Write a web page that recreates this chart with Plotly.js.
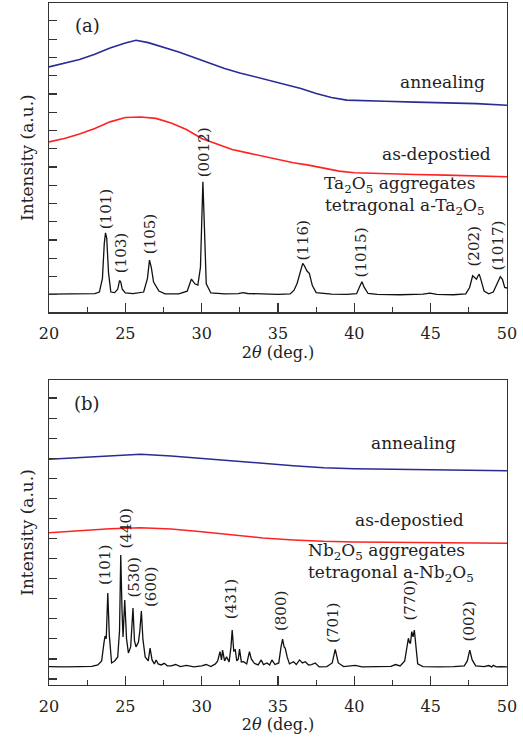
<!DOCTYPE html>
<html>
<head>
<meta charset="utf-8">
<script src="https://cdn.plot.ly/plotly-3.0.1.min.js"></script>
<style>html,body{margin:0;padding:0;background:#fff;}#chart{width:523px;height:742px;}</style>
</head>
<body>
<div id="chart"></div>
<script>
// ---------- Panel (a): Ta2O5 ----------
const aAnnealX = [20, 21, 22, 23, 24, 25, 25.7, 26.5, 27.5, 28.5, 29.5, 30.5, 31.5, 32.5, 33.5, 34.5, 35.5, 36.5, 37.5, 38.5, 39.5, 40.5, 42, 44, 46, 48, 50];
const aAnnealY = [12.48, 12.67, 12.88, 13.17, 13.52, 13.79, 13.94, 13.81, 13.57, 13.30, 12.99, 12.67, 12.39, 12.15, 11.93, 11.70, 11.48, 11.30, 11.02, 10.80, 10.66, 10.62, 10.60, 10.55, 10.51, 10.47, 10.38];
const aDepoX = [20, 21, 22, 23, 24, 25, 26, 27, 28, 29, 30, 31, 32, 33, 34, 35, 36, 37, 38, 39, 40, 42, 44, 46, 48, 50];
const aDepoY = [8.37, 8.56, 8.80, 9.11, 9.47, 9.71, 9.74, 9.66, 9.41, 9.05, 8.56, 8.25, 7.96, 7.77, 7.59, 7.41, 7.23, 7.10, 6.92, 6.77, 6.68, 6.62, 6.59, 6.55, 6.51, 6.46];
const aAggX = [20, 21, 22, 23, 23.3, 23.5, 23.62, 23.7, 23.78, 23.9, 24.05, 24.3, 24.5, 24.62, 24.7, 24.8, 25.0, 25.5, 26.2, 26.45, 26.58, 26.7, 26.85, 26.97, 27.2, 27.6, 28.5, 29.05, 29.33, 29.55, 29.75, 29.92, 30.02, 30.08, 30.16, 30.3, 30.6, 31.5, 32.4, 32.7, 33.0, 34, 35, 35.8, 36.05, 36.25, 36.45, 36.62, 36.72, 36.9, 37.05, 37.25, 37.5, 38.5, 39.5, 40.15, 40.35, 40.5, 40.65, 40.9, 41.5, 43, 44.5, 44.95, 45.4, 46.5, 47.3, 47.55, 47.75, 47.9, 48.0, 48.08, 48.18, 48.3, 48.5, 48.8, 49.1, 49.35, 49.56, 49.7, 49.85, 50];
const aAggY = [0.03, 0.05, 0.04, 0.06, 0.15, 0.9, 2.8, 3.39, 3.1, 1.2, 0.15, 0.12, 0.3, 0.78, 0.7, 0.3, 0.1, 0.06, 0.15, 0.9, 1.9, 1.5, 0.7, 0.5, 0.2, 0.05, 0.05, 0.2, 0.86, 0.6, 0.53, 1.5, 5.2, 6.19, 4.2, 0.6, 0.1, 0.05, 0.06, 0.12, 0.07, 0.03, 0.02, 0.05, 0.25, 0.62, 1.3, 1.72, 1.6, 1.3, 1.17, 0.5, 0.12, 0.03, 0.02, 0.06, 0.45, 0.71, 0.4, 0.07, 0.02, 0.0, 0.03, 0.09, 0.02, 0.0, 0.05, 0.4, 1.04, 0.95, 0.85, 1.0, 1.13, 0.8, 0.2, 0.05, 0.15, 0.6, 0.99, 0.85, 0.4, 0.37];
const aPeakLabels = ["(101)", "(103)", "(105)", "(0012)", "(116)", "(1015)", "(202)", "(1017)"];
const aPeakLabelX = [23.74, 24.72, 26.62, 30.16, 36.66, 40.46, 47.87, 49.44];
const aPeakLabelY = [4.69, 2.28, 3.32, 7.81, 2.99, 2.34, 2.67, 2.72];

// ---------- Panel (b): Nb2O5 ----------
const bAnnealX = [20, 22, 24, 26, 28, 30, 32, 34, 36, 38, 40, 42, 44, 46, 48, 50];
const bAnnealY = [10.95, 11.03, 11.13, 11.20, 11.11, 11.00, 10.88, 10.75, 10.63, 10.53, 10.48, 10.46, 10.45, 10.43, 10.41, 10.38];
const bDepoX = [20, 22, 24, 26, 28, 30, 32, 34, 36, 38, 40, 44, 50];
const bDepoY = [7.29, 7.39, 7.49, 7.54, 7.47, 7.34, 7.17, 7.03, 6.93, 6.86, 6.83, 6.79, 6.76];
const bAggX = [20, 21, 22, 22.8, 23.2, 23.45, 23.6, 23.67, 23.75, 23.85, 23.95, 24.1, 24.3, 24.5, 24.62, 24.7, 24.78, 24.85, 24.96, 25.08, 25.2, 25.35, 25.5, 25.6, 25.7, 25.8, 25.86, 25.95, 26.05, 26.15, 26.3, 26.5, 26.62, 26.75, 26.9, 27.02, 27.15, 27.35, 27.55, 27.75, 28.0, 28.3, 28.6, 29.0, 29.5, 30.0, 30.3, 30.6, 30.9, 31.05, 31.2, 31.3, 31.37, 31.5, 31.63, 31.8, 31.92, 32.0, 32.1, 32.2, 32.3, 32.4, 32.48, 32.6, 32.75, 32.95, 33.13, 33.25, 33.45, 33.7, 33.9, 34.05, 34.28, 34.45, 34.6, 34.8, 35.05, 35.2, 35.3, 35.4, 35.47, 35.6, 35.75, 36.02, 36.2, 36.41, 36.6, 36.79, 37.0, 37.2, 37.44, 37.7, 38.2, 38.55, 38.75, 38.95, 39.3, 40.06, 40.5, 41.5, 42.4, 42.7, 43.0, 43.3, 43.45, 43.54, 43.62, 43.68, 43.76, 43.85, 43.93, 44.02, 44.15, 44.5, 45.5, 46.5, 47.2, 47.4, 47.56, 47.72, 47.95, 48.5, 48.8, 49.0, 49.1, 49.3, 49.6, 50];
const bAggY = [0.62, 0.6, 0.62, 0.63, 0.7, 0.9, 1.8, 2.14, 2.0, 4.28, 2.2, 0.8, 0.9, 1.1, 2.4, 6.18, 3.5, 2.09, 3.94, 2.0, 1.3, 1.6, 3.54, 1.9, 1.6, 1.75, 1.84, 2.4, 3.39, 2.0, 1.1, 0.9, 1.54, 0.95, 0.75, 0.95, 0.75, 0.7, 0.78, 0.66, 0.65, 0.72, 0.62, 0.68, 0.6, 0.65, 0.72, 0.62, 0.75, 0.9, 1.36, 0.95, 1.44, 0.9, 1.1, 0.85, 1.6, 2.44, 1.4, 1.45, 0.9, 1.0, 1.49, 0.85, 0.86, 0.75, 1.36, 1.0, 0.78, 0.7, 0.95, 0.72, 0.8, 0.7, 0.95, 0.72, 0.8, 1.6, 1.99, 1.6, 1.54, 1.1, 0.75, 0.86, 0.72, 0.95, 0.8, 0.86, 0.7, 0.72, 0.8, 0.6, 0.62, 0.8, 1.48, 0.8, 0.62, 0.68, 0.6, 0.62, 0.63, 0.72, 0.65, 0.9, 1.6, 2.03, 1.8, 1.79, 2.36, 2.1, 2.44, 1.6, 0.75, 0.62, 0.6, 0.62, 0.65, 0.9, 1.44, 0.95, 0.65, 0.62, 0.67, 0.6, 0.68, 0.6, 0.62, 0.6];
const bPeakLabels = ["(101)", "(440)", "(530)", "(600)", "(431)", "(800)", "(701)", "(770)", "(002)"];
const bPeakLabelX = [23.67, 25.05, 25.59, 26.73, 31.91, 35.15, 38.64, 43.63, 47.5];
const bPeakLabelY = [5.68, 7.51, 5.07, 4.57, 3.97, 3.40, 2.77, 3.90, 2.86];

const xTickVals = [20, 25, 30, 35, 40, 45, 50];
const seriesNames = ["annealing", "as-depostied"];

// ---------- build ----------
const FONT = "DejaVu Serif, Liberation Serif, serif";
const BLUE = "#2b2b95", RED = "#ff2222", BLACK = "#111111", AX = "#333333";

function line(x, y, color, w, xa, ya) {
  return {x: x, y: y, type: "scatter", mode: "lines", xaxis: xa, yaxis: ya,
          line: {color: color, width: w}, hoverinfo: "skip", showlegend: false};
}
const traces = [
  line(aAnnealX, aAnnealY, BLUE, 1.6, "x", "y"),
  line(aDepoX, aDepoY, RED, 1.6, "x", "y"),
  line(aAggX, aAggY, BLACK, 1.3, "x", "y"),
  line(bAnnealX, bAnnealY, BLUE, 1.5, "x2", "y2"),
  line(bDepoX, bDepoY, RED, 1.5, "x2", "y2"),
  line(bAggX, bAggY, BLACK, 1.3, "x2", "y2")
];

function xax(anchor) {
  return {anchor: anchor, range: [20, 50], tickvals: xTickVals, ticktext: xTickVals.map(String),
    ticks: "inside", ticklen: 9, tickwidth: 1.2, tickcolor: AX,
    minor: {tickvals: [22.5, 27.5, 32.5, 37.5, 42.5, 47.5], ticks: "inside", ticklen: 5, tickwidth: 1.2, tickcolor: AX},
    showline: true, linecolor: AX, linewidth: 1.3, mirror: true, showgrid: false, zeroline: false,
    tickfont: {family: FONT, size: 16, color: "#222"}, ticklabelstandoff: 6,
    title: {text: "2<i>θ</i> (deg.)", font: {family: FONT, size: 16, color: "#222"}, standoff: 1}};
}
function yax(anchor, dom, rng) {
  return {anchor: anchor, domain: dom, range: rng, tick0: 0, dtick: 1,
    ticks: "inside", ticklen: 8, tickwidth: 1.2, tickcolor: AX, showticklabels: false,
    showline: true, linecolor: AX, linewidth: 1.3, mirror: true, showgrid: false, zeroline: false,
    title: {text: "Intensity (a.u.)", font: {family: FONT, size: 17, color: "#222"}, standoff: 9}};
}

const annotations = [];
function txt(xref, yref, x, y, text, xanchor, size, angle) {
  annotations.push({xref: xref, yref: yref, x: x, y: y, text: text, showarrow: false,
    xanchor: xanchor, yanchor: "middle", textangle: angle || 0,
    font: {family: FONT, size: size, color: "#222"}});
}
aPeakLabels.forEach((t, i) => txt("x", "y", aPeakLabelX[i], aPeakLabelY[i], t, "center", 15, -90));
bPeakLabels.forEach((t, i) => txt("x2", "y2", bPeakLabelX[i], bPeakLabelY[i], t, "center", 15, -90));
txt("x", "y", 22.49, 14.76, "(a)", "center", 18);
txt("x", "y", 48.72, 11.64, seriesNames[0], "right", 17);
txt("x", "y", 49.05, 7.70, seriesNames[1], "right", 17);
txt("x", "y", 37.9, 6.05, "Ta<sub>2</sub>O<sub>5</sub> aggregates", "left", 17);
txt("x", "y", 37.97, 4.82, "tetragonal a-Ta<sub>2</sub>O<sub>5</sub>", "left", 17);
txt("x2", "y2", 22.49, 13.75, "(b)", "center", 18);
txt("x2", "y2", 46.82, 11.76, seriesNames[0], "right", 17);
txt("x2", "y2", 47.34, 7.92, seriesNames[1], "right", 17);
txt("x2", "y2", 36.85, 6.33, "Nb<sub>2</sub>O<sub>5</sub> aggregates", "left", 17);
txt("x2", "y2", 36.85, 5.24, "tetragonal a-Nb<sub>2</sub>O<sub>5</sub>", "left", 17);

const layout = {
  width: 523, height: 742,
  margin: {l: 49, r: 16, t: 3, b: 57},
  paper_bgcolor: "#fff", plot_bgcolor: "#fff",
  showlegend: false,
  xaxis: xax("y"),
  yaxis: yax("x", [0.5465, 1], [-0.96, 15.98]),
  xaxis2: xax("y2"),
  yaxis2: yax("x2", [0, 0.4472], [-0.3, 14.9]),
  annotations: annotations
};
Plotly.newPlot("chart", traces, layout, {staticPlot: true, displayModeBar: false});
</script>
</body>
</html>
